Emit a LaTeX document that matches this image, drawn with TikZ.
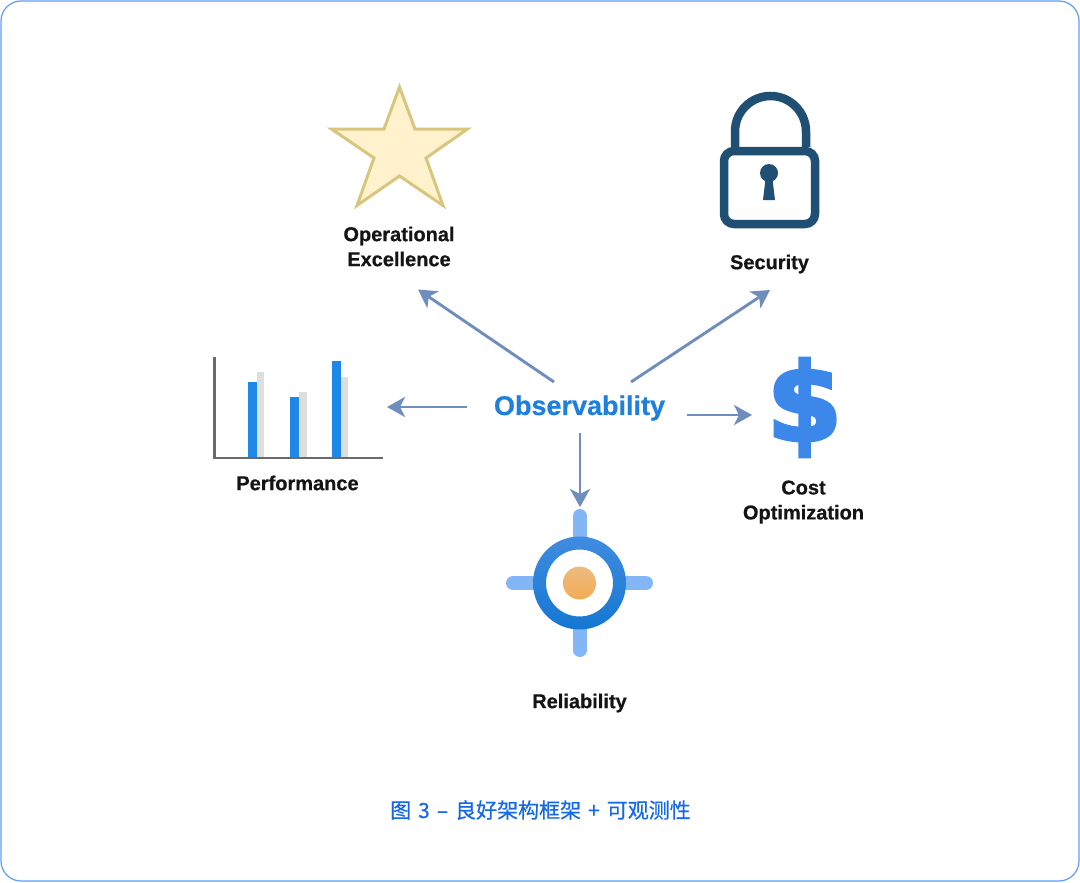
\documentclass[tikz,border=0pt]{standalone}
\usepackage{fontspec}
\setmainfont{Liberation Sans}
\newfontfamily\cjk[FakeBold=0.4]{Noto Sans CJK SC}
\newfontfamily\labfont[FakeBold=0.6]{Liberation Sans Bold}
\newfontfamily\dollarfont[FakeBold=3.5]{DejaVu Sans Bold}
\usetikzlibrary{arrows.meta}
\definecolor{framec}{HTML}{5C9DF8}
\definecolor{flowc}{HTML}{6F8DBD}
\definecolor{lockc}{HTML}{1F4F72}
\definecolor{tickc}{HTML}{82B6F6}
\definecolor{obsc}{HTML}{1E80DC}
\definecolor{capc}{HTML}{1669E6}
\definecolor{barb}{HTML}{1E88E8}
\definecolor{barg}{HTML}{DEDEDE}
\definecolor{dollarc}{HTML}{3B87EA}
\definecolor{starf}{HTML}{FFF2CC}
\definecolor{stard}{HTML}{D9C67E}
\definecolor{axisc}{HTML}{6A6A6A}
\definecolor{ringt}{HTML}{3F8CDF}
\definecolor{ringb}{HTML}{1577D2}
\definecolor{dott}{HTML}{EDBB80}
\definecolor{dotb}{HTML}{F2AC55}
\tikzset{
  x=1pt,y=-1pt,
  lab/.style={font=\labfont\fontsize{20}{25}\selectfont,text=black!92,align=center,inner sep=0pt},
  flow/.style={draw=flowc,line width=2.9pt,-{Stealth[length=18pt,width=20pt,inset=5pt]}},
  tickmark/.style={draw=tickc,line width=14pt,line cap=round},
  barblue/.style={fill=barb},
  bargray/.style={fill=barg},
}
\begin{document}
\begin{tikzpicture}
\useasboundingbox (0,0) rectangle (1080,883);
\draw[framec,line width=1.2pt,fill=white,rounded corners=20pt] (1,1) rectangle (1079,881);
% star
\draw[stard,fill=starf,line width=3pt,miter limit=10] (399.5,87) -- (415,129) -- (467.5,129) -- (426,158) -- (443,205.5) -- (399.5,176) -- (357,205.5) -- (374,158) -- (331.5,129) -- (384,129) -- cycle;
% lock
\draw[lockc,line width=8.5pt] (735,147) -- (735,131.5) arc[start angle=180,end angle=360,radius=35.5] -- (806,147);
\draw[lockc,line width=8.5pt,rounded corners=10pt] (724,151) rectangle (815,224);
\fill[lockc] (769,173) circle[radius=9];
\fill[lockc] (766,175) -- (772,175) -- (775,200) -- (763,200) -- cycle;
% chart
\fill[bargray] (257,372) rectangle (264,458);
\fill[bargray] (299,392) rectangle (307,458);
\fill[bargray] (341,377) rectangle (348,458);
\fill[barblue] (248,382) rectangle (256.5,458);
\fill[barblue] (290,397) rectangle (298.5,458);
\fill[barblue] (332,361) rectangle (341,458);
\draw[axisc,line width=2.5pt] (214.5,357) -- (214.5,458) -- (383,458);
% target
\draw[tickmark] (579.5,516) -- (579.5,545);
\draw[tickmark] (579.5,620) -- (579.5,650);
\draw[tickmark] (513,583) -- (540,583);
\draw[tickmark] (620,583) -- (646,583);
\fill[white] (579.5,583) circle[radius=34];
\shade[top color=ringt,bottom color=ringb,even odd rule] (579.5,583) circle[radius=46.5] (579.5,583) circle[radius=33.5];
\shade[top color=dott,bottom color=dotb] (579.5,583) circle[radius=16.5];
% dollar
\node[font=\dollarfont\fontsize{108}{108}\selectfont,text=dollarc,inner sep=0pt] (dollar) at (804.5,407.5) {\$};
% labels
\node[lab] (opex) at (399,246.5) {Operational\\Excellence};
\node[lab] (sec) at (769.5,264) {Security};
\node[lab] (perf) at (297.5,483) {Performance};
\node[lab] (cost) at (803.5,502) {Cost\\Optimization};
\node[lab] (rel) at (579.5,703) {Reliability};
\node[font=\labfont\fontsize{27}{30}\selectfont,text=obsc,inner sep=0pt] (obs) at (579.5,408) {Observability};
\node[font=\cjk\fontsize{21}{24}\selectfont,text=capc,inner sep=0pt] (cap) at (540.5,810) {图\hspace{7pt}3\hspace{7pt}–\hspace{7pt}良好架构框架\hspace{7pt}+\hspace{7pt}可观测性};
% connectors
\draw[flow] ([shift={(-25.5,-26)}]obs.center) -- ([shift={(19,43)}]opex.center);
\draw[flow] ([shift={(51.5,-26)}]obs.center) -- ([shift={(0.5,26)}]sec.center);
\draw[flow] ([shift={(-112.5,-1)}]obs.center) -- ([shift={(89.5,-76)}]perf.center);
\draw[flow] ([shift={(107.5,7)}]obs.center) -- ([shift={(-52.5,7.5)}]dollar.center);
\draw[flow] ([shift={(0.5,25)}]obs.center) -- ([shift={(0.5,-196)}]rel.center);
\end{tikzpicture}
\end{document}
